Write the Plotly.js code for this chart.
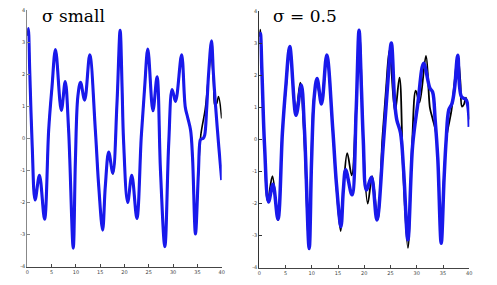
<!DOCTYPE html>
<html>
<head>
<meta charset="utf-8">
<script src="https://cdn.plot.ly/plotly-3.0.1.min.js"></script>
<style>html,body{margin:0;padding:0;background:#fff;}#chart{width:497px;height:285px;}</style>
</head>
<body>
<div id="chart"></div>
<script>
// True signal (black)
var xTrue = [0,0.2,0.5,1.0,1.6,2.5,3.55,4.4,5.08,5.8,7.0,7.8,8.5,9.45,9.9,10.4,10.95,11.8,12.85,14.0,14.7,15.5,16.05,16.75,17.6,18.45,19.1,19.5,19.8,20.65,21.5,22.55,23.45,24.15,24.8,25.85,26.7,27.4,28.3,29.1,29.8,30.5,31.75,32.5,33.0,33.6,34.0,34.6,35.2,35.7,36.6,37.2,37.8,38.3,38.6,39.0,39.35,40];
var yTrue = [3.2,3.42,2.1,-0.2,-1.92,-1.15,-2.52,0.26,1.6,2.77,0.87,1.77,0.26,-3.42,-0.68,1.3,1.75,1.19,2.6,0.26,-1.5,-2.86,-1.5,-0.43,-1.12,1.09,3.37,1.6,-0.05,-2.0,-1.15,-2.5,0.05,1.6,2.78,0.86,1.92,-0.99,-3.38,-0.15,1.52,1.15,2.6,0.98,0.65,0.25,-0.6,-2.98,-1.1,0.1,0.9,1.8,2.62,1.8,1.02,1.1,1.3,0.62];

// Estimate, sigma small (blue, left)
var xSmall = [0,0.2,0.5,1.0,1.6,2.5,3.55,4.4,5.08,5.8,7.0,7.8,8.5,9.45,9.9,10.4,10.95,11.8,12.85,14.0,14.7,15.5,16.05,16.75,17.6,18.45,19.1,19.5,19.8,20.65,21.5,22.55,23.45,24.15,24.8,25.85,26.7,27.4,28.3,29.1,29.8,30.5,31.75,32.5,33.0,33.6,34.0,34.6,35.2,35.6,35.8,36.2,36.5,36.9,37.3,37.9,38.3,38.7,39.4,40];
var ySmall = [3.2,3.42,2.1,-0.2,-1.92,-1.15,-2.52,0.26,1.6,2.77,0.87,1.77,0.26,-3.42,-0.68,1.3,1.75,1.19,2.6,0.26,-1.5,-2.86,-1.5,-0.43,-1.08,1.09,3.37,1.6,-0.05,-2.0,-1.15,-2.5,0.05,1.6,2.78,0.86,1.92,-0.99,-3.38,-0.15,1.52,1.15,2.6,0.98,0.65,0.25,-0.6,-2.98,-1.1,-0.05,-0.02,0.0,0.1,0.9,2.0,3.04,2.0,1.09,-0.26,-1.3];

// Estimate, sigma = 0.5 (blue, right)
var xHalf = [0,0.2,0.5,1.0,1.75,2.6,3.55,4.4,5.05,5.8,7.0,8.0,8.6,9.5,9.95,10.45,11.0,11.85,12.85,14.0,14.7,15.55,16.0,16.45,17.65,18.45,19.0,19.45,19.8,20.4,21.35,22.4,23.6,24.4,25.15,25.8,26.2,26.9,27.5,28.3,29.2,30.2,31.3,32.5,33.0,33.5,34.0,34.65,35.2,35.6,36.1,36.7,37.2,37.8,38.5,39.4,40];
var yHalf = [3.0,3.3,2.1,-0.2,-1.95,-1.4,-2.49,0.2,1.65,2.89,0.75,1.69,0.3,-3.4,-0.7,1.3,1.9,1.1,2.63,0.3,-1.4,-2.72,-1.6,-0.95,-1.73,0.9,3.4,1.6,0.0,-1.58,-1.18,-2.51,-0.2,1.6,3.0,1.13,0.6,0.2,-1.0,-3.13,-0.2,1.12,2.37,1.59,1.48,0.6,-0.6,-3.24,-1.2,0.0,0.92,1.12,1.6,2.62,1.33,1.23,0.39];

var titles = ["\u03c3 small", "\u03c3 = 0.5"];
var xTicks = [0,5,10,15,20,25,30,35,40];
var yTicks = [-4,-3,-2,-1,0,1,2,3,4];

var blue = "rgb(25,25,235)";
var traces = [
  {x:xTrue, y:yTrue, xaxis:"x", yaxis:"y", mode:"lines", line:{color:"#000", width:1.6, shape:"spline"}},
  {x:xSmall, y:ySmall, xaxis:"x", yaxis:"y", mode:"lines", line:{color:blue, width:3.1, shape:"spline"}},
  {x:xTrue, y:yTrue, xaxis:"x2", yaxis:"y2", mode:"lines", line:{color:"#000", width:1.8, shape:"spline"}},
  {x:xHalf, y:yHalf, xaxis:"x2", yaxis:"y2", mode:"lines", line:{color:blue, width:3.5, shape:"spline"}}
];

function ax(dom, vals, lc){
  return {domain:dom, tickvals:vals, ticktext:vals.map(String), showgrid:false, zeroline:false,
    showline:true, linecolor:lc, linewidth:1, ticks:"inside", ticklen:3, tickcolor:lc,
    tickfont:{family:"DejaVu Sans", size:5, color:"#444"}, fixedrange:true};
}

var layout = {
  width:497, height:285, margin:{l:0,r:0,t:0,b:0}, showlegend:false,
  paper_bgcolor:"#fff", plot_bgcolor:"#fff",
  xaxis: Object.assign(ax([27.3/497, 221.7/497], xTicks, "#444"), {range:[0,40], anchor:"y"}),
  yaxis: Object.assign(ax([(285-266.7)/285, (285-10)/285], yTicks, "#888"), {range:[-4,4], anchor:"x"}),
  xaxis2: Object.assign(ax([259.3/497, 469.3/497], xTicks, "#444"), {range:[0,40], anchor:"y2"}),
  yaxis2: Object.assign(ax([(285-267.7)/285, (285-11)/285], yTicks, "#333"), {range:[-4,4], anchor:"x2"}),
  annotations:[
    {text:titles[0], xref:"paper", yref:"paper", x:40/497, y:(285-16.5)/285, xanchor:"left", yanchor:"middle", showarrow:false, font:{family:"DejaVu Serif", size:17, color:"#000"}},
    {text:titles[1], xref:"paper", yref:"paper", x:271/497, y:(285-16.5)/285, xanchor:"left", yanchor:"middle", showarrow:false, font:{family:"DejaVu Serif", size:17, color:"#000"}}
  ]
};

Plotly.newPlot("chart", traces, layout, {staticPlot:true, displayModeBar:false});
</script>
</body>
</html>
